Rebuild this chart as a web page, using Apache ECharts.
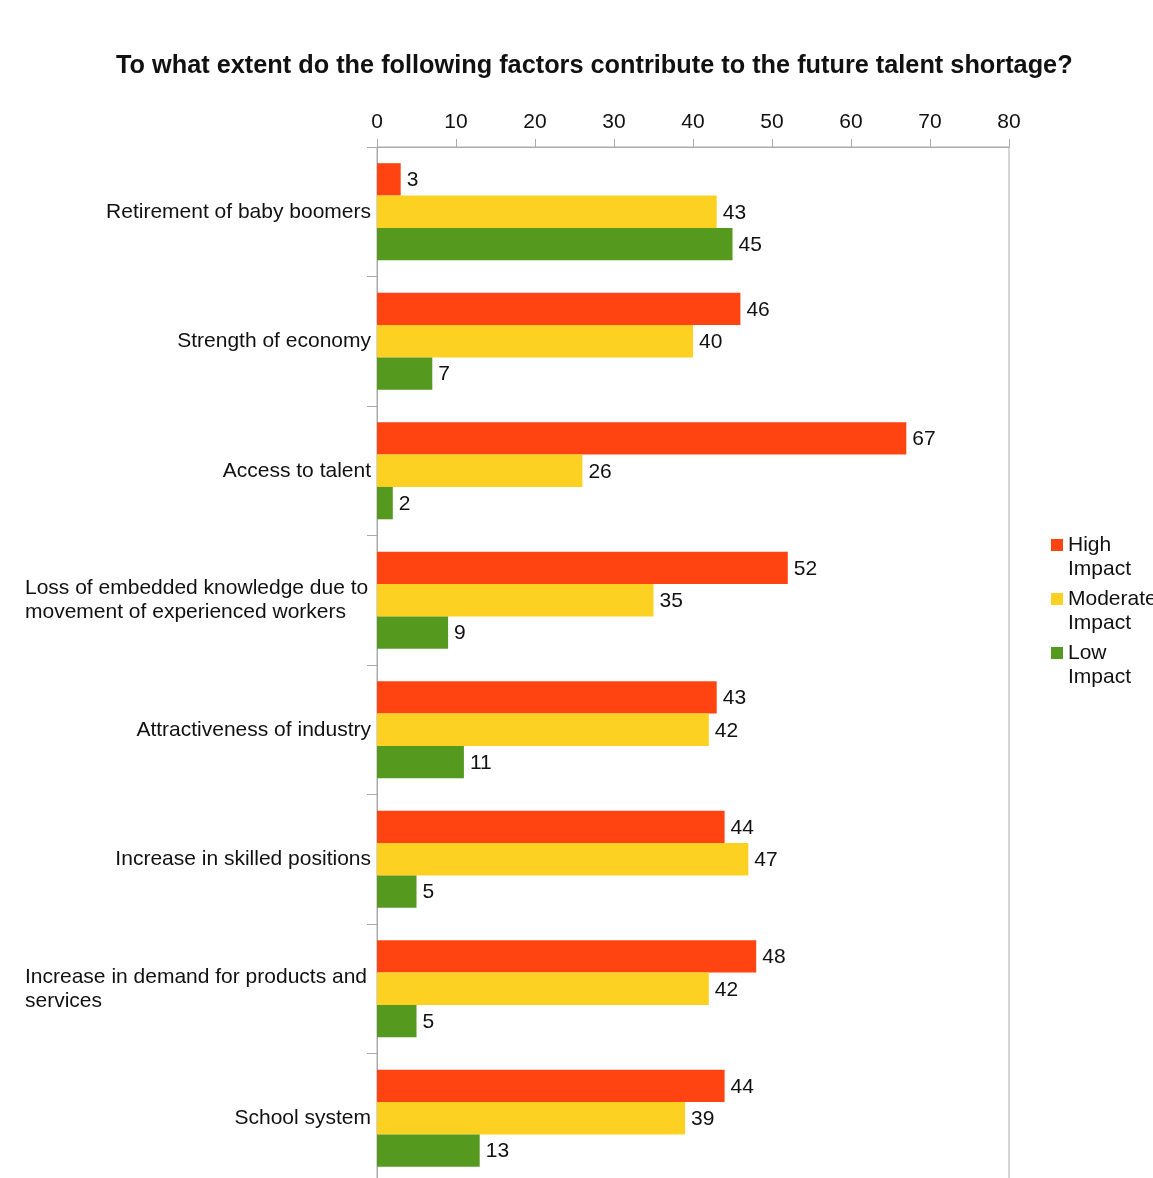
<!DOCTYPE html>
<html>
<head>
<meta charset="utf-8">
<script src="https://cdn.jsdelivr.net/npm/echarts@6/dist/echarts.min.js"></script>
<style>
  html, body { margin: 0; padding: 0; background: #fff; }
  #chart { width: 1153px; height: 1178px; }
</style>
</head>
<body>
<div id="chart"></div>
<script>
// Survey factors and share of respondents per impact level
const categories = [
  'Retirement of baby boomers',
  'Strength of economy',
  'Access to talent',
  'Loss of embedded knowledge due to\nmovement of experienced workers',
  'Attractiveness of industry',
  'Increase in skilled positions',
  'Increase in demand for products and\nservices',
  'School system'
];
const highImpact = [3, 46, 67, 52, 43, 44, 48, 44];
const moderateImpact = [43, 40, 26, 35, 42, 47, 42, 39];
const lowImpact = [45, 7, 2, 9, 11, 5, 5, 13];
const seriesNames = ['High\nImpact', 'Moderate\nImpact', 'Low\nImpact'];
const xTicks = { min: 0, max: 80, interval: 10 };

const FONT = '"Liberation Sans", Arial, Helvetica, sans-serif';
const AXIS_GRAY = '#ababab';
const TEXT = '#111';

function barSeries(name, data, color) {
  return {
    name: name,
    type: 'bar',
    data: data,
    barGap: '0%',
    barCategoryGap: '25%',
    itemStyle: { color: color },
    label: {
      show: true,
      position: 'right',
      distance: 6,
      offset: [0, 1],
      color: TEXT,
      fontSize: 21,
      fontFamily: FONT
    }
  };
}

const chart = echarts.init(document.getElementById('chart'), null, { renderer: 'canvas' });
chart.setOption({
  backgroundColor: '#ffffff',
  animation: false,
  title: {
    text: 'To what extent do the following factors contribute to the future talent shortage?',
    left: 111,
    top: 49,
    textStyle: { fontFamily: FONT, fontSize: 25.3, fontWeight: 'bold', color: TEXT }
  },
  legend: {
    orient: 'vertical',
    left: 1046,
    top: 504,
    itemWidth: 12,
    itemHeight: 12,
    itemGap: -18,
    icon: 'rect',
    // leading blank line keeps the marker level with the first text line
    formatter: function (name) { return '\n' + name; },
    textStyle: {
      fontFamily: FONT,
      fontSize: 21,
      lineHeight: 24,
      color: TEXT
    },
    data: seriesNames
  },
  grid: {
    left: 377,
    top: 147,
    width: 632,
    height: 1036,
    outerBoundsMode: 'none',
    containLabel: false,
    show: true,
    borderColor: AXIS_GRAY,
    borderWidth: 1,
    backgroundColor: 'transparent'
  },
  xAxis: {
    type: 'value',
    position: 'top',
    min: xTicks.min,
    max: xTicks.max,
    interval: xTicks.interval,
    axisLine: { show: true, lineStyle: { color: AXIS_GRAY, width: 1 } },
    axisTick: { show: true, length: 8, lineStyle: { color: AXIS_GRAY } },
    splitLine: { show: false },
    axisLabel: { margin: 14, color: TEXT, fontSize: 21, fontFamily: FONT }
  },
  yAxis: {
    type: 'category',
    inverse: true,
    data: categories,
    axisLine: { show: true, lineStyle: { color: AXIS_GRAY, width: 1 } },
    axisTick: { show: true, length: 10, lineStyle: { color: AXIS_GRAY } },
    axisLabel: {
      margin: 6,
      color: TEXT,
      fontSize: 21,
      fontFamily: FONT,
      lineHeight: 24,
      formatter: function (v) {
        return v.indexOf('\n') >= 0 ? '{multi|' + v.split('\n').join('}\n{multi|') + '}' : v;
      },
      rich: {
        multi: { width: 346, align: 'left', fontSize: 21, fontFamily: FONT, color: TEXT, lineHeight: 24 }
      }
    }
  },
  series: [
    barSeries(seriesNames[0], highImpact, '#FF4411'),
    barSeries(seriesNames[1], moderateImpact, '#FDD122'),
    barSeries(seriesNames[2], lowImpact, '#559A1E')
  ]
});
</script>
</body>
</html>
